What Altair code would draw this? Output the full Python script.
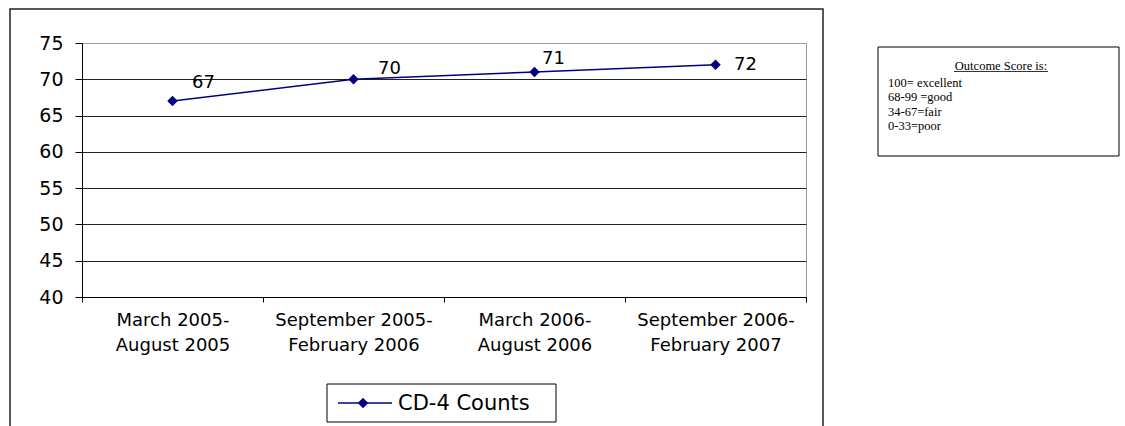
import altair as alt
import pandas as pd

# Reporting periods (two-line axis labels split on "|")
periods = [
    "March 2005-|August 2005",
    "September 2005-|February 2006",
    "March 2006-|August 2006",
    "September 2006-|February 2007",
]
scores = [67, 70, 71, 72]
series_name = "CD-4 Counts"

# Outcome score key shown in the side box
key_title = "Outcome Score is:"
key_lines = ["100= excellent", "68-99 =good", "34-67=fair", "0-33=poor"]

df = pd.DataFrame({"period": periods, "score": scores})
one = pd.DataFrame({"k": [0]})

NAVY = "#000080"
SANS = "DejaVu Sans"
SERIF = "Liberation Serif"

x_enc = alt.X(
    "period:N",
    sort=periods,
    bandPosition=0.5,
    scale=alt.Scale(type="band", paddingInner=0, paddingOuter=0),
    axis=alt.Axis(
        title=None,
        labelAngle=0,
        labelExpr="split(datum.label, '|')",
        labelFont=SANS,
        labelFontSize=18,
        labelColor="#000",
        labelLineHeight=25,
        labelBaseline="top",
        labelPadding=9,
        tickBand="extent",
        tickSize=5,
        tickColor="#000",
        domainColor="#000",
        grid=False,
    ),
)
y_enc = alt.Y(
    "score:Q",
    scale=alt.Scale(domain=[40, 75], nice=False, zero=False),
    axis=alt.Axis(
        title=None,
        values=[40, 45, 50, 55, 60, 65, 70, 75],
        labelFont=SANS,
        labelFontSize=19,
        labelColor="#000",
        labelPadding=12,
        tickSize=7,
        tickColor="#000",
        domainColor="#000",
        gridColor={"expr": "datum.value == 75 ? '#999999' : '#222222'"},
        gridWidth=1,
    ),
)

# Outer chart frame (bottom edge runs past the canvas)
frame = alt.Chart(one).mark_rect(fillOpacity=0, stroke="#222", strokeWidth=1.5).encode(
    x=alt.value(-72), x2=alt.value(741), y=alt.value(-34), y2=alt.value(420)
)

base = alt.Chart(df)
line = base.mark_line(color=NAVY, strokeWidth=1.5).encode(x=x_enc, y=y_enc)
pts = base.mark_point(shape="diamond", filled=True, color=NAVY, opacity=1, size=110).encode(
    x=x_enc, y=y_enc
)

# Value labels, each nudged off its marker
label_offsets = [(31, -18), (36, -10), (19, -13), (30, 0)]
labels = []
for p, (dx, dy) in zip(periods, label_offsets):
    labels.append(
        base.transform_filter(alt.datum.period == p)
        .mark_text(font=SANS, fontSize=18, color="#000", dx=dx, dy=dy, align="center", baseline="middle")
        .encode(x=x_enc, y=y_enc, text="score:Q")
    )

# Legend box
leg_box = alt.Chart(one).mark_rect(fill="white", stroke="#000", strokeWidth=1).encode(
    x=alt.value(245), x2=alt.value(474), y=alt.value(341), y2=alt.value(379)
)
leg_line = alt.Chart(one).mark_rule(color=NAVY, strokeWidth=1.5).encode(
    x=alt.value(256), x2=alt.value(310), y=alt.value(360)
)
leg_pt = alt.Chart(one).mark_point(shape="diamond", filled=True, color=NAVY, opacity=1, size=110).encode(
    x=alt.value(281), y=alt.value(360)
)
leg_txt = alt.Chart(one).mark_text(
    font=SANS, fontSize=21, color="#000", align="left", baseline="middle", text=series_name
).encode(x=alt.value(316), y=alt.value(361))

# Outcome score key
key_box = alt.Chart(one).mark_rect(fill="white", stroke="#000", strokeWidth=1).encode(
    x=alt.value(796), x2=alt.value(1037), y=alt.value(4), y2=alt.value(113)
)
key_head = alt.Chart(one).mark_text(
    font=SERIF, fontSize=12.5, color="#000", align="center", baseline="alphabetic", text=key_title
).encode(x=alt.value(919), y=alt.value(27))
key_under = alt.Chart(one).mark_rule(color="#000", strokeWidth=0.8).encode(
    x=alt.value(872), x2=alt.value(966), y=alt.value(28.5)
)
key_body = alt.Chart(one).mark_text(
    font=SERIF, fontSize=12.5, color="#000", align="left", baseline="middle",
    lineHeight=14.4, text=key_lines,
).encode(x=alt.value(806), y=alt.value(40))

chart = (
    alt.layer(frame, line, pts, *labels, leg_box, leg_line, leg_pt, leg_txt, key_box, key_under, key_head, key_body)
    .properties(
        width=724,
        height=254,
        autosize=alt.AutoSizeParams(type="none"),
        padding={"left": 82, "top": 43, "right": 319, "bottom": 129},
        background="white",
    )
    .configure_view(stroke="#999999", strokeWidth=1)
)

chart.save("out.html", embed_options={"renderer": "svg", "actions": False})
